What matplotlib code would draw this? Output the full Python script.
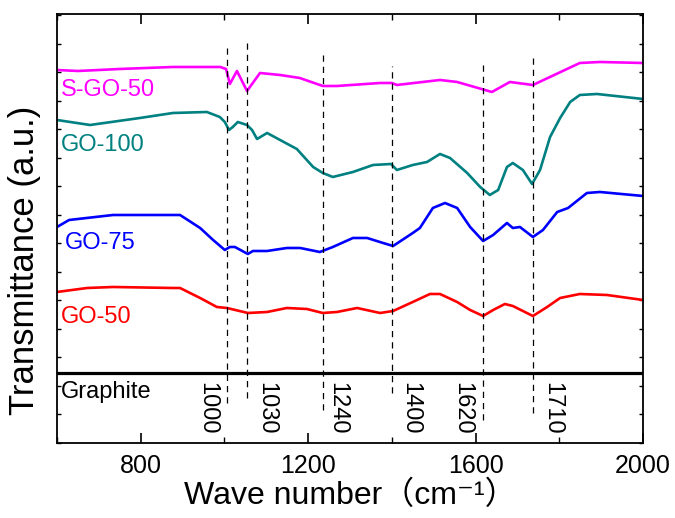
import matplotlib
matplotlib.use("Agg")
import matplotlib.pyplot as plt
from matplotlib.ticker import MultipleLocator

plt.rcParams['font.family'] = ['Liberation Sans', 'Noto Sans CJK SC', 'DejaVu Sans']

# spectra (wave number, offset transmittance a.u.)
w_sgo50 = [600, 650, 750, 877, 990, 1004, 1013, 1030, 1054, 1085, 1133, 1180, 1235, 1269,
           1372, 1400, 1412, 1515, 1556, 1639, 1682, 1737, 1849, 1897, 2000]
t_sgo50 = [373, 372, 374, 376, 376, 374, 359, 372, 352, 370, 368, 365, 357, 357,
           360, 360, 358, 363, 361, 351, 361, 358, 380, 381, 380]

w_go100 = [600, 679, 798, 877, 958, 989, 1001, 1011, 1020, 1032, 1054, 1066, 1078, 1102,
           1133, 1173, 1212, 1235, 1259, 1307, 1355, 1398, 1412, 1450, 1484, 1515, 1539,
           1580, 1611, 1634, 1654, 1675, 1689, 1713, 1735, 1754, 1778, 1802, 1826, 1849,
           1890, 2000]
t_go100 = [323, 318, 325, 330, 331, 326, 321, 313, 316, 321, 318, 313, 304, 310,
           303, 294, 276, 270, 266, 271, 278, 279, 273, 278, 281, 289, 285,
           270, 256, 248, 253, 276, 280, 273, 259, 273, 306, 325, 341, 348,
           349, 344]

w_go75 = [600, 629, 734, 877, 894, 942, 973, 1001, 1013, 1025, 1056, 1068, 1102, 1149,
          1181, 1228, 1259, 1307, 1341, 1379, 1403, 1450, 1467, 1498, 1527, 1556, 1587,
          1618, 1642, 1675, 1689, 1706, 1737, 1761, 1795, 1821, 1866, 1897, 2000]
t_go75 = [216, 223, 228, 228, 228, 215, 203, 193, 196, 196, 189, 192, 192, 195,
          195, 191, 196, 205, 205, 200, 197, 210, 215, 235, 240, 235, 216,
          202, 208, 220, 215, 216, 206, 213, 231, 235, 250, 251, 247]

w_go50 = [600, 672, 734, 877, 894, 942, 982, 1006, 1056, 1102, 1149, 1197, 1235, 1269,
          1317, 1372, 1403, 1450, 1491, 1515, 1556, 1587, 1618, 1642, 1670, 1689, 1737,
          1771, 1802, 1849, 1914, 2000]
t_go50 = [151, 155, 156, 155, 155, 145, 136, 135, 130, 131, 135, 134, 130, 131,
          135, 130, 132, 141, 149, 149, 141, 133, 127, 133, 139, 137, 127,
          136, 145, 149, 148, 143]

w_graphite = [600, 2000]
t_graphite = [70, 70]

# marked bands
band_pos = [1005, 1055, 1235, 1400, 1618, 1737]
band_top = [398, 402, 391, 377, 381, 388]
band_bot = [40, 45, 33, 50, 23, 30]
band_txt = ["1000", "1030", "1240", "1400", "1620", "1710"]
band_txt_x = [958, 1099, 1269, 1443, 1568, 1783]

fig = plt.figure(figsize=(6.75, 5.18), dpi=100)
ax = fig.add_axes([0.0844, 0.1448, 0.8682, 0.8282])

ax.plot(w_sgo50, t_sgo50, color="#FF00FF", lw=1.9)
ax.plot(w_go100, t_go100, color="#008080", lw=1.9)
ax.plot(w_go75, t_go75, color="#0000FF", lw=1.9)
ax.plot(w_go50, t_go50, color="#FF0000", lw=1.9)
ax.plot(w_graphite, t_graphite, color="black", lw=2.3)

for x, y0, y1 in zip(band_pos, band_bot, band_top):
    ax.plot([x, x], [y0, y1], color="black", lw=0.9, ls=(0, (5, 4)))
for x, s in zip(band_txt_x, band_txt):
    ax.text(x, 35, s, rotation=270, ha="center", va="center", fontsize=17)

fs = 17
ax.text(610, 353, "S-GO-50", color="#FF00FF", fontsize=fs, va="center")
ax.text(610, 298, "GO-100", color="#008080", fontsize=fs, va="center")
ax.text(619, 200, "GO-75", color="#0000FF", fontsize=fs, va="center")
ax.text(610, 126, "GO-50", color="#FF0000", fontsize=fs, va="center")
ax.text(610, 51, "Graphite", color="black", fontsize=fs, va="center")

ax.set_xlim(600, 2000)
ax.set_ylim(0, 429)
ax.xaxis.set_major_locator(MultipleLocator(400))
ax.xaxis.set_minor_locator(MultipleLocator(200))
ax.yaxis.set_major_locator(MultipleLocator(28.5))
ax.set_yticklabels([])
ax.tick_params(axis="x", which="major", direction="in", length=7, width=1.2,
               top=True, labelsize=18, pad=8)
ax.tick_params(axis="x", which="minor", direction="in", length=4, width=1.0, top=True)
ax.tick_params(axis="y", which="major", direction="in", length=3, width=1.0,
               right=True, labelleft=False)
for sp in ax.spines.values():
    sp.set_linewidth(1.3)

ax.set_xlabel("Wave number\uff08cm\u207b\u00b9\uff09", fontsize=23, labelpad=2)
ax.set_ylabel("Transmittance (a.u.)", fontsize=25)
ax.yaxis.set_label_coords(-0.027, 0.426)

fig.savefig("out.png", dpi=100)
